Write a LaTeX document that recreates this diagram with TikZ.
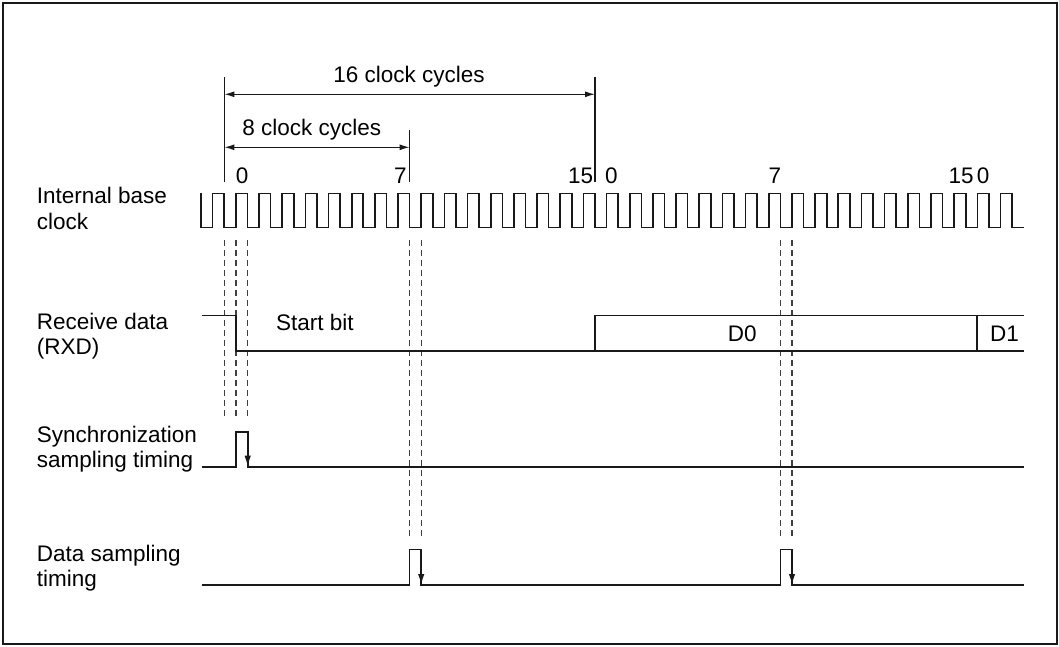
\documentclass[tikz,border=0pt]{standalone}
\usepackage{fontspec}
\setmainfont{Liberation Sans}
\usetikzlibrary{arrows.meta}
\tikzset{
  lbl/.style={font=\fontsize{22.5}{27}\selectfont, inner sep=0pt, text=black},
  wave/.style={line width=1.6pt, draw=black!90, line join=miter},
  guide/.style={line width=1.2pt, draw=black!75, dash pattern=on 5.5pt off 4.5pt},
  dim/.style={line width=1.3pt, draw=black!90, {Latex[length=10pt,width=6pt]}-{Latex[length=10pt,width=6pt]}},
  tick/.style={line width=1.3pt, draw=black!90},
  samp/.style={line width=1.6pt, draw=black!90, -{Latex[length=11pt,width=6.5pt]}},
}
\begin{document}
\begin{tikzpicture}[x=1pt,y=-1pt]
\useasboundingbox (0,0) rectangle (1059,646);
\draw[line width=2pt, draw=black!90] (2.7,2.7) rectangle (1057.3,644.2);

% left labels
\node[lbl, anchor=base west] (l1a) at (36.7,203.3) {Internal base};
\node[lbl, anchor=base west] (l1b) at (36.7,229.3) {clock};
\node[lbl, anchor=base west] (l2a) at (36.7,329.3) {Receive data};
\node[lbl, anchor=base west] (l2b) at (36.7,354.3) {(RXD)};
\node[lbl, anchor=base west] (l3a) at (36.7,442.3) {Synchronization};
\node[lbl, anchor=base west] (l3b) at (36.7,467.7) {sampling timing};
\node[lbl, anchor=base west] (l4a) at (36.7,561.7) {Data sampling};
\node[lbl, anchor=base west] (l4b) at (36.7,586.7) {timing};

% clock
\draw[wave] (201.1,193.3) -- (201.1,227.5)
  foreach \k in {0,...,34} { -- ({201.1+\k*23.17+11.585},227.5) -- ++(0,-34.2) -- ++(11.585,0) -- ++(0,34.2) }
  -- (1023.5,227.5);

% cycle numbers
\node[lbl, anchor=base west] (n0a) at (235.7,183.3) {0};
\node[lbl, anchor=base west] (n7a) at (394,183.3) {7};
\node[lbl, anchor=base west] (n15a) at (568,183.3) {15};
\node[lbl, anchor=base west] (n0b) at (605,183.3) {0};
\node[lbl, anchor=base west] (n7b) at (768.3,183.3) {7};
\node[lbl, anchor=base west] (n15b) at (948.3,183.3) {15};
\node[lbl, anchor=base west] (n0c) at (976.7,183.3) {0};

% dimension lines
\coordinate (a16l) at (224.3,94.3);
\coordinate (a16r) at (595,94.3);
\coordinate (a8l) at (224.3,147.3);
\coordinate (a8r) at (409.6,147.3);
\draw[tick] (224.3,77) -- (224.3,182);
\draw[tick] (595,77) -- (595,182);
\draw[tick] (409.6,130) -- (409.6,182);
\draw[dim] (a16l) -- (a16r);
\draw[dim] (a8l) -- (a8r);
\node[lbl, anchor=base] (t16) at (409,82) {16 clock cycles};
\node[lbl, anchor=base] (t8) at (311.7,135) {8 clock cycles};

% guide dashed lines
\foreach \x in {224.3,236,247.7} { \draw[guide] (\x,240) -- (\x,417); }
\foreach \x in {409.6,421.2,780.4,792} { \draw[guide] (\x,240) -- (\x,538); }

% receive data
\draw[wave] (201.7,315.3) -- (236,315.3) -- (236,350.7) -- (1023.5,350.7);
\draw[wave] (595,350.7) -- (595,315.3) -- (1023.5,315.3);
\draw[wave] (977,315.3) -- (977,350.7);
\node[lbl, anchor=base west] (sb) at (276,330.7) {Start bit};
\node[lbl, anchor=base west] (d0) at (727.7,341) {D0};
\node[lbl, anchor=base west] (d1) at (990,341) {D1};

% sync sampling
\draw[wave] (201.7,466.7) -- (236,466.7) -- (236,431.7) -- (247.7,431.7) -- (247.7,466.7) -- (1023.5,466.7);
\draw[samp] (247.7,431.7) -- (247.7,466.7);

% data sampling
\draw[wave] (201.7,585) -- (409.6,585) -- (409.6,549.3) -- (421.2,549.3) -- (421.2,585) -- (780.4,585) -- (780.4,549.3) -- (792,549.3) -- (792,585) -- (1023.5,585);
\draw[samp] (421.2,549.3) -- (421.2,585);
\draw[samp] (792,549.3) -- (792,585);
\end{tikzpicture}
\end{document}
